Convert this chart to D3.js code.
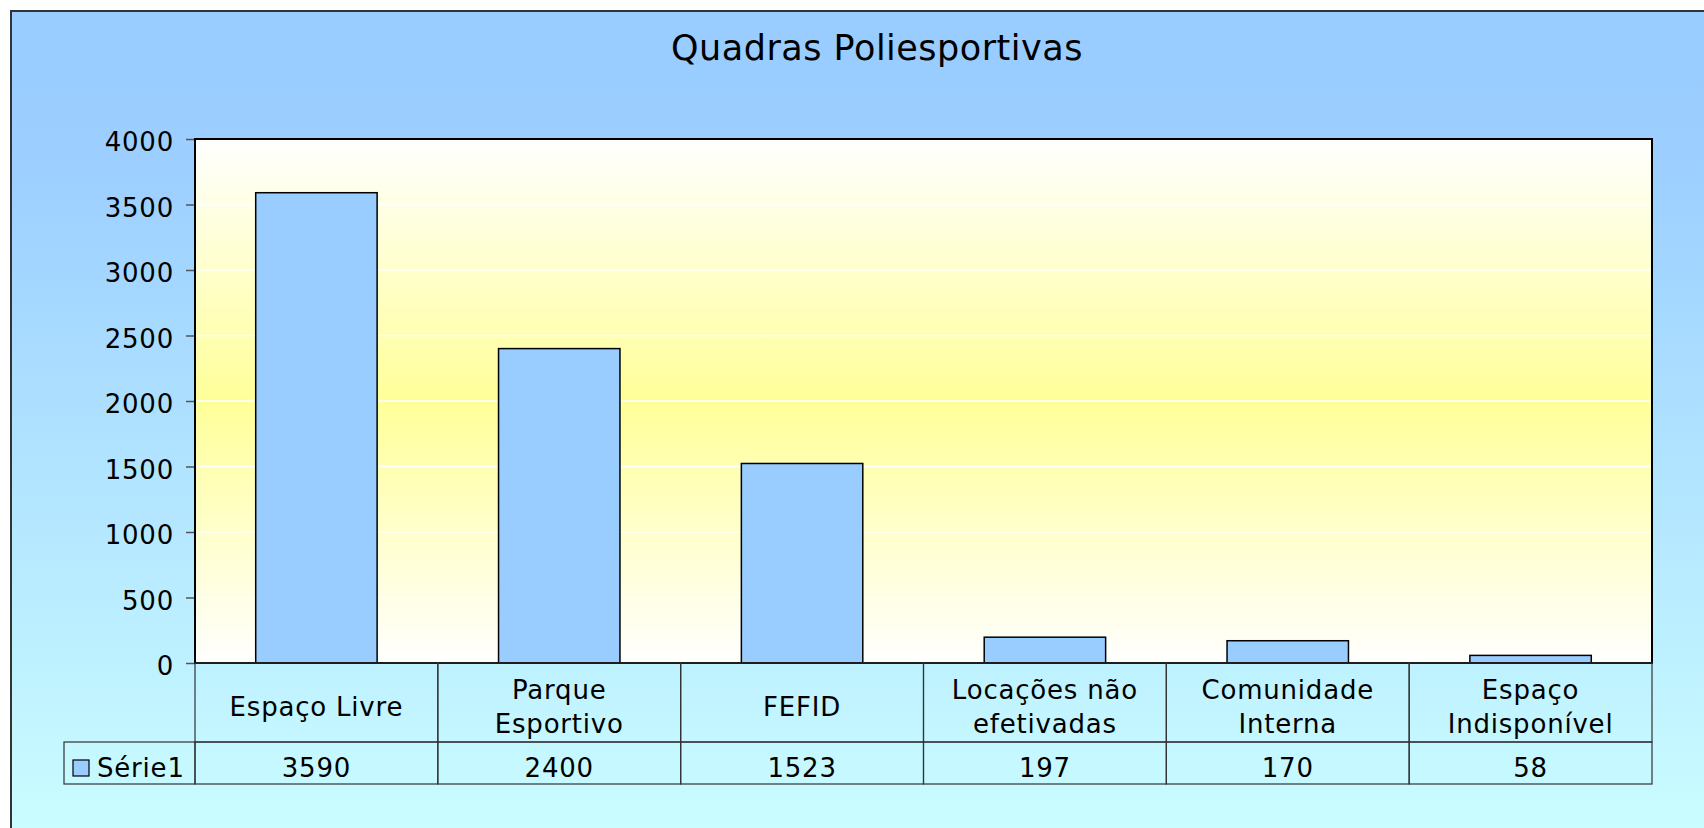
<!DOCTYPE html>
<html>
<head>
<meta charset="utf-8">
<script src="https://cdn.jsdelivr.net/npm/d3@7"></script>
<style>
  html, body { margin: 0; padding: 0; background: #fff; }
  svg { display: block; font-family: "DejaVu Sans", Verdana, sans-serif; }
</style>
</head>
<body>
<svg id="chart" width="1704" height="828"></svg>
<script>
// dados do grafico
const categories = ["Espaço Livre", "Parque\nEsportivo", "FEFID", "Locações não\nefetivadas", "Comunidade\nInterna", "Espaço\nIndisponível"];
const values = [3590, 2400, 1523, 197, 170, 58];
const yTicks = [0, 500, 1000, 1500, 2000, 2500, 3000, 3500, 4000];
const seriesName = "Série1";
const title = "Quadras Poliesportivas";

const width = 1704, height = 828;
const margin = { top: 139, right: 52, bottom: 165, left: 195 };
const plotBottom = height - margin.bottom; // 663
const rowH1 = 79, rowH2 = 42;
const labelSpacing = "0.8px";

const svg = d3.select("#chart");
const defs = svg.append("defs");

// fundo externo azul -> ciano
const bgGrad = defs.append("linearGradient").attr("id", "bg").attr("x1", 0).attr("y1", 0).attr("x2", 0).attr("y2", 1);
bgGrad.append("stop").attr("offset", "0%").attr("stop-color", "#99ccff");
bgGrad.append("stop").attr("offset", "20%").attr("stop-color", "#9dd0ff");
bgGrad.append("stop").attr("offset", "100%").attr("stop-color", "#ccffff");

// area do grafico branco -> amarelo -> branco
const plotGrad = defs.append("linearGradient").attr("id", "plotbg").attr("x1", 0).attr("y1", 0).attr("x2", 0).attr("y2", 1);
plotGrad.append("stop").attr("offset", "0%").attr("stop-color", "#ffffff");
plotGrad.append("stop").attr("offset", "50%").attr("stop-color", "#ffff99");
plotGrad.append("stop").attr("offset", "100%").attr("stop-color", "#ffffff");

svg.append("rect").attr("width", width).attr("height", height).attr("fill", "#ffffff");
svg.append("rect")
  .attr("x", 11).attr("y", 11)
  .attr("width", width + 20).attr("height", height + 20)
  .attr("fill", "url(#bg)")
  .attr("stroke", "#333").attr("stroke-width", 2);

// titulo
svg.append("text")
  .attr("x", 877).attr("y", 60)
  .attr("text-anchor", "middle")
  .style("font-size", "35px")
  .style("letter-spacing", "0.5px")
  .attr("fill", "#000")
  .text(title);

//escalas
const x = d3.scaleBand()
  .domain(categories)
  .range([margin.left, width - margin.right])
  .paddingInner(0.5)
  .paddingOuter(0.25);

const xCell = d3.scaleBand()
  .domain(categories)
  .range([margin.left, width - margin.right])
  .padding(0);

const y = d3.scaleLinear()
  .domain([0, 4000])
  .range([plotBottom, margin.top]);

const plotW = width - margin.right - margin.left;

// fundo da area
svg.append("rect")
  .attr("x", margin.left).attr("y", margin.top)
  .attr("width", plotW).attr("height", plotBottom - margin.top)
  .attr("fill", "url(#plotbg)");

// linhas de grade brancas
svg.append("g")
  .selectAll("line")
  .data(yTicks.filter(t => t > 0 && t < 4000))
  .join("line")
  .attr("x1", margin.left).attr("x2", width - margin.right)
  .attr("y1", d => y(d)).attr("y2", d => y(d))
  .attr("stroke", "#ffffff").attr("stroke-width", 1.5);

// eixo y
const yAxis = svg.append("g")
  .attr("transform", `translate(${margin.left},0)`)
  .call(d3.axisLeft(y).tickValues(yTicks).tickSize(9).tickPadding(12).tickFormat(d3.format("d")));
yAxis.select(".domain").remove();
yAxis.selectAll(".tick line").attr("stroke", "#555").attr("stroke-width", 1.5);
yAxis.selectAll(".tick text")
  .attr("dy", "0.45em")
  .style("font-size", "26px")
  .style("letter-spacing", labelSpacing)
  .style("font-family", "\"DejaVu Sans\", Verdana, sans-serif")
  .attr("fill", "#000");

// barras
svg.append("g")
  .selectAll("rect")
  .data(values)
  .join("rect")
  .attr("x", (d, i) => x(categories[i]))
  .attr("y", d => y(d))
  .attr("width", x.bandwidth())
  .attr("height", d => plotBottom - y(d))
  .attr("fill", "#99ccff")
  .attr("stroke", "#000").attr("stroke-width", 1.5);

// borda da area
svg.append("rect")
  .attr("x", margin.left).attr("y", margin.top)
  .attr("width", plotW).attr("height", plotBottom - margin.top)
  .attr("fill", "none")
  .attr("stroke", "#000").attr("stroke-width", 2);

// tabela de dados
const table = svg.append("g");
const tableLine = "#333";
const rowTop = plotBottom, rowMid = plotBottom + rowH1, rowBot = plotBottom + rowH1 + rowH2;

// celula da legenda
table.append("rect")
  .attr("x", 64).attr("y", rowMid)
  .attr("width", margin.left - 64).attr("height", rowH2)
  .attr("fill", "none").attr("stroke", tableLine).attr("stroke-width", 1.2);

// colunas
table.selectAll("rect.cell1")
  .data(categories)
  .join("rect")
  .attr("class", "cell1")
  .attr("x", d => xCell(d)).attr("y", rowTop)
  .attr("width", xCell.bandwidth()).attr("height", rowH1)
  .attr("fill", "none").attr("stroke", tableLine).attr("stroke-width", 1.2);

table.selectAll("rect.cell2")
  .data(categories)
  .join("rect")
  .attr("class", "cell2")
  .attr("x", d => xCell(d)).attr("y", rowMid)
  .attr("width", xCell.bandwidth()).attr("height", rowH2)
  .attr("fill", "none").attr("stroke", tableLine).attr("stroke-width", 1.2);

// nomes das categorias
table.selectAll("text.cat")
  .data(categories)
  .join("text")
  .attr("class", "cat")
  .attr("text-anchor", "middle")
  .style("font-size", "26px")
  .style("letter-spacing", labelSpacing)
  .each(function (d) {
    const lines = d.split("\n");
    const cx = xCell(d) + xCell.bandwidth() / 2;
    const cy = rowTop + rowH1 / 2 + 4;
    const lh = 34;
    d3.select(this).selectAll("tspan")
      .data(lines)
      .join("tspan")
      .attr("x", cx)
      .attr("y", (l, i) => cy + (i - (lines.length - 1) / 2) * lh)
      .attr("dominant-baseline", "central")
      .text(l => l);
  });

// valores
table.selectAll("text.val")
  .data(values)
  .join("text")
  .attr("class", "val")
  .attr("x", (d, i) => xCell(categories[i]) + xCell.bandwidth() / 2)
  .attr("y", rowMid + rowH2 / 2 + 5)
  .attr("text-anchor", "middle")
  .attr("dominant-baseline", "central")
  .style("font-size", "26px")
  .style("letter-spacing", labelSpacing)
  .text(d => d);

// legenda
table.append("rect")
  .attr("x", 73).attr("y", 760)
  .attr("width", 16).attr("height", 16)
  .attr("fill", "#99ccff").attr("stroke", "#000").attr("stroke-width", 1.2);
table.append("text")
  .attr("x", 97).attr("y", rowMid + rowH2 / 2 + 5)
  .attr("dominant-baseline", "central")
  .style("font-size", "26px")
  .style("letter-spacing", labelSpacing)
  .text(seriesName);
</script>
</body>
</html>
